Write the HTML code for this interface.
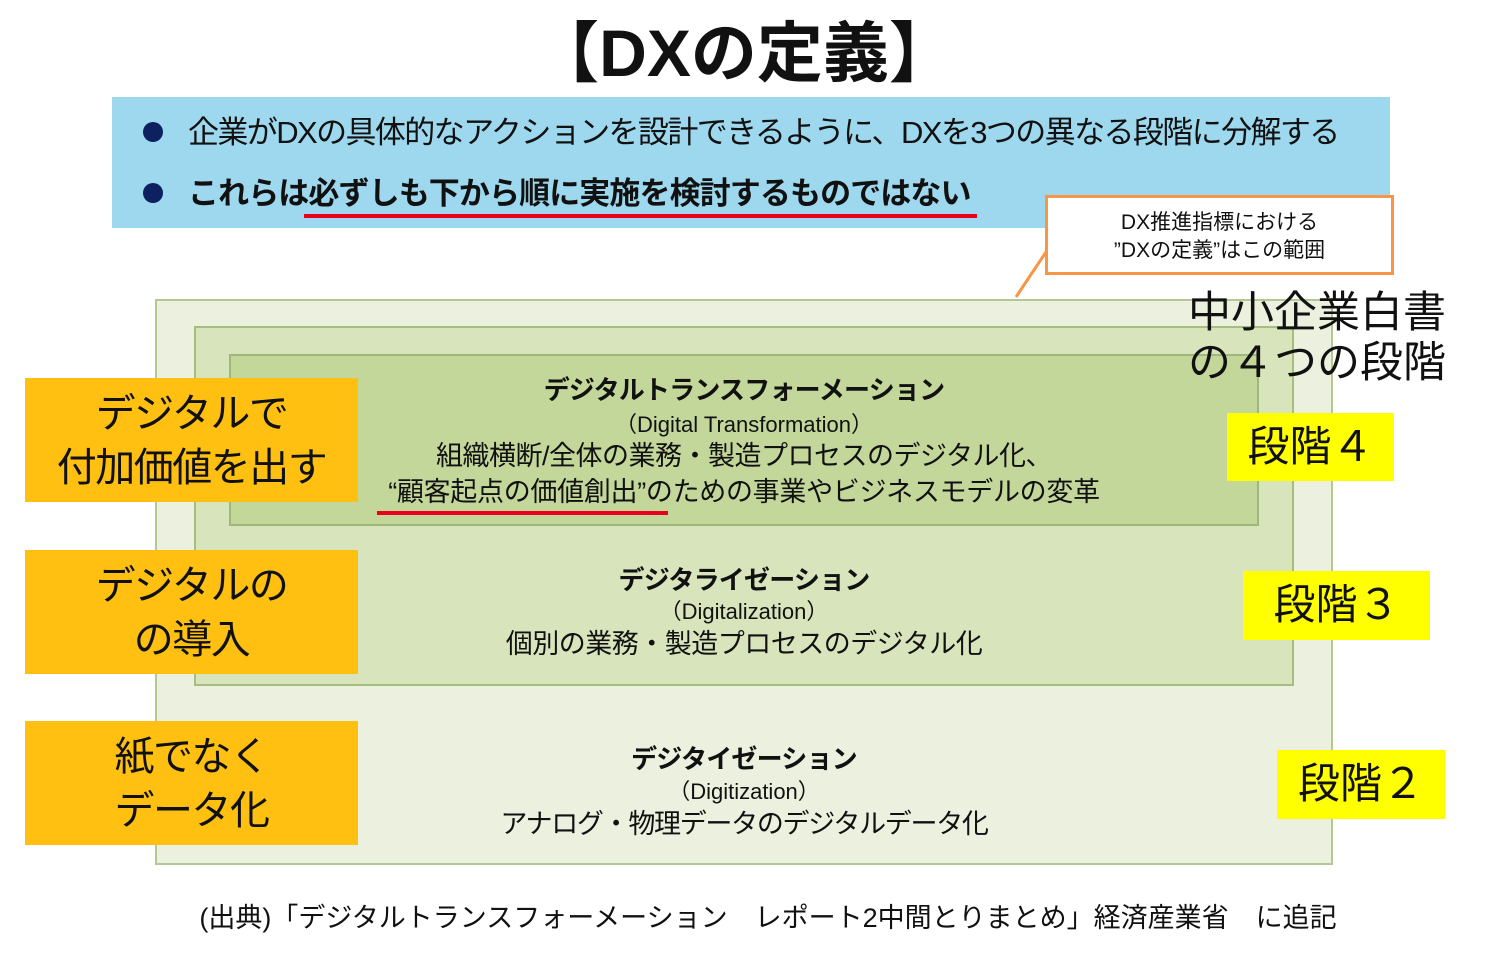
<!DOCTYPE html>
<html><head><meta charset="utf-8"><style>
body{margin:0;width:1488px;height:954px;background:#fff;position:relative;overflow:hidden;font-family:"Liberation Sans","Noto Sans CJK JP",sans-serif;color:#111}
div{position:absolute;box-sizing:border-box}
.c{text-align:center;white-space:nowrap}
.or{background:#ffc011;left:25px;width:333px;height:124px;font-size:40px;line-height:54px;text-align:center;padding-top:9px;letter-spacing:-1.5px}
.yl{background:#ffff00;font-size:42px;text-align:center;line-height:68px}
</style></head><body>
<div class="c" style="left:0;width:1488px;top:10px;font-size:66px;font-weight:bold;line-height:86px">【DXの定義】</div>
<div style="left:112px;top:97px;width:1278px;height:131px;background:#9dd8ee"></div>
<div style="left:143px;top:122px;width:20px;height:20px;border-radius:50%;background:#0d2160"></div>
<div style="left:143px;top:183px;width:20px;height:20px;border-radius:50%;background:#0d2160"></div>
<div style="left:188px;top:111px;font-size:31px;line-height:44px;white-space:nowrap;letter-spacing:-1.6px">企業がDXの具体的なアクションを設計できるように、DXを3つの異なる段階に分解する</div>
<div style="left:188px;top:172px;font-size:31px;line-height:44px;font-weight:bold;white-space:nowrap;letter-spacing:-0.9px">これらは必ずしも下から順に実施を検討するものではない</div>
<div style="left:304px;top:214px;width:673px;height:4px;background:#e8001c"></div>
<div style="left:155px;top:299px;width:1178px;height:566px;background:#ebf1de;border:2px solid #b3c894"></div>
<div style="left:194px;top:326px;width:1100px;height:360px;background:#d8e4bc;border:2px solid #a6bd80"></div>
<div style="left:229px;top:354px;width:1030px;height:172px;background:#c4d79b;border:2px solid #9fb77a"></div>
<svg style="position:absolute;left:0;top:0" width="1488" height="954"><line x1="1016" y1="297" x2="1050" y2="246" stroke="#f79646" stroke-width="3"/></svg>
<div style="left:1045px;top:195px;width:349px;height:80px;background:#fff;border:3px solid #f79646;font-size:21px;line-height:28px;text-align:center;padding-top:11px">DX推進指標における<br>”DXの定義”はこの範囲</div>
<div style="left:1188px;top:288px;font-size:43px;line-height:50px;white-space:nowrap">中小企業白書<br>の４つの段階</div>
<div class="c" style="left:229px;width:1030px;top:372px;font-size:26px;font-weight:bold;line-height:36px;letter-spacing:-0.8px">デジタルトランスフォーメーション</div>
<div class="c" style="left:229px;width:1030px;top:410px;font-size:22px;line-height:30px">（Digital Transformation）</div>
<div class="c" style="left:229px;width:1030px;top:438px;font-size:27px;line-height:36px;letter-spacing:-0.5px">組織横断/全体の業務・製造プロセスのデジタル化、</div>
<div class="c" style="left:229px;width:1030px;top:474px;font-size:27px;line-height:36px;letter-spacing:-0.3px">“顧客起点の価値創出”のための事業やビジネスモデルの変革</div>
<div style="left:377px;top:511px;width:291px;height:4px;background:#e8001c"></div>
<div class="c" style="left:229px;width:1030px;top:562px;font-size:26px;font-weight:bold;line-height:36px;letter-spacing:-0.8px">デジタライゼーション</div>
<div class="c" style="left:229px;width:1030px;top:597px;font-size:22px;line-height:30px">（Digitalization）</div>
<div class="c" style="left:229px;width:1030px;top:626px;font-size:27px;line-height:36px;letter-spacing:-0.5px">個別の業務・製造プロセスのデジタル化</div>
<div class="c" style="left:229px;width:1030px;top:741px;font-size:26px;font-weight:bold;line-height:36px;letter-spacing:-0.8px">デジタイゼーション</div>
<div class="c" style="left:229px;width:1030px;top:777px;font-size:22px;line-height:30px">（Digitization）</div>
<div class="c" style="left:229px;width:1030px;top:806px;font-size:27px;line-height:36px;letter-spacing:-1.3px">アナログ・物理データのデジタルデータ化</div>
<div class="or" style="top:378px">デジタルで<br>付加価値を出す</div>
<div class="or" style="top:550px">デジタルの<br>の導入</div>
<div class="or" style="top:721px">紙でなく<br>データ化</div>
<div class="yl" style="left:1227px;top:413px;width:167px;height:68px">段階４</div>
<div class="yl" style="left:1243px;top:571px;width:187px;height:69px">段階３</div>
<div class="yl" style="left:1277px;top:750px;width:168px;height:69px">段階２</div>
<div class="c" style="left:0;width:1488px;top:900px;font-size:27px;line-height:36px;padding-left:48px">(出典)「デジタルトランスフォーメーション　レポート2中間とりまとめ」経済産業省　に追記</div>
</body></html>
